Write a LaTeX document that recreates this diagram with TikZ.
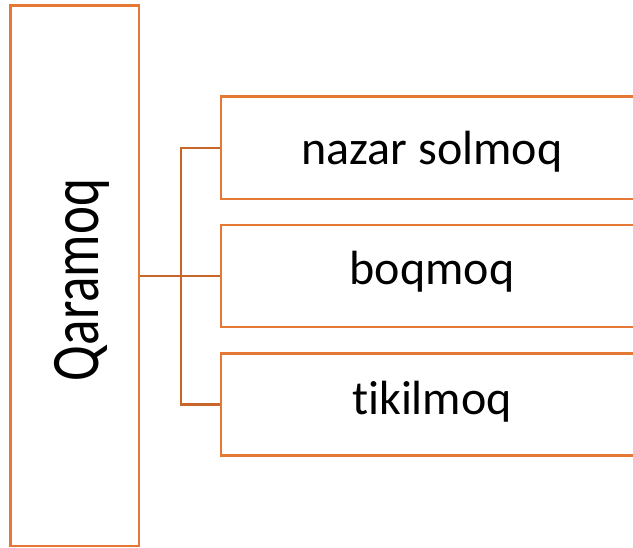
\documentclass[tikz,border=0pt]{standalone}
\usepackage{fontspec}
\setmainfont{Carlito}[Ligatures=NoCommon]
\begin{document}
\begin{tikzpicture}[x=1pt,y=-1pt,
  boxline/.style={draw={rgb,255:red,228;green,120;blue,52}, line width=2.4pt, rectangle, inner sep=0pt},
  conn/.style={draw={rgb,255:red,200;green,102;blue,42}, line width=2.2pt},
  lbl/.style={anchor=base, inner sep=0pt, font=\fontsize{48}{50}\selectfont}]
\useasboundingbox (0,0) rectangle (633,548);
\clip (0,0) rectangle (633,548);
\node[boxline, minimum width=128.5pt, minimum height=540.5pt] (L) at (74.75,275.75) {};
\node[boxline, minimum width=422pt, minimum height=102.5pt] (B1) at (432,147.75) {};
\node[boxline, minimum width=422pt, minimum height=102.3pt] (B2) at (432,276.15) {};
\node[boxline, minimum width=422pt, minimum height=102.2pt] (B3) at (432,404.6) {};
\node[rotate=90, anchor=base, inner sep=0pt, font=\fontsize{68}{70}\selectfont] (Q) at (98,280) {\scalebox{0.78}[1]{Qaramoq}};
\node[lbl] (t1) at (432,165) {nazar solmoq};
\node[lbl] (t2) at (432,285) {boqmoq};
\node[lbl] (t3) at (432,415) {tikilmoq};
\coordinate (j) at (181,276);
\draw[conn] (L.east |- B2.west) -- (B2.west);
\draw[conn] (B1.west) -- (B1.west -| j) -- (B3.west -| j) -- (B3.west);
\end{tikzpicture}
\end{document}
